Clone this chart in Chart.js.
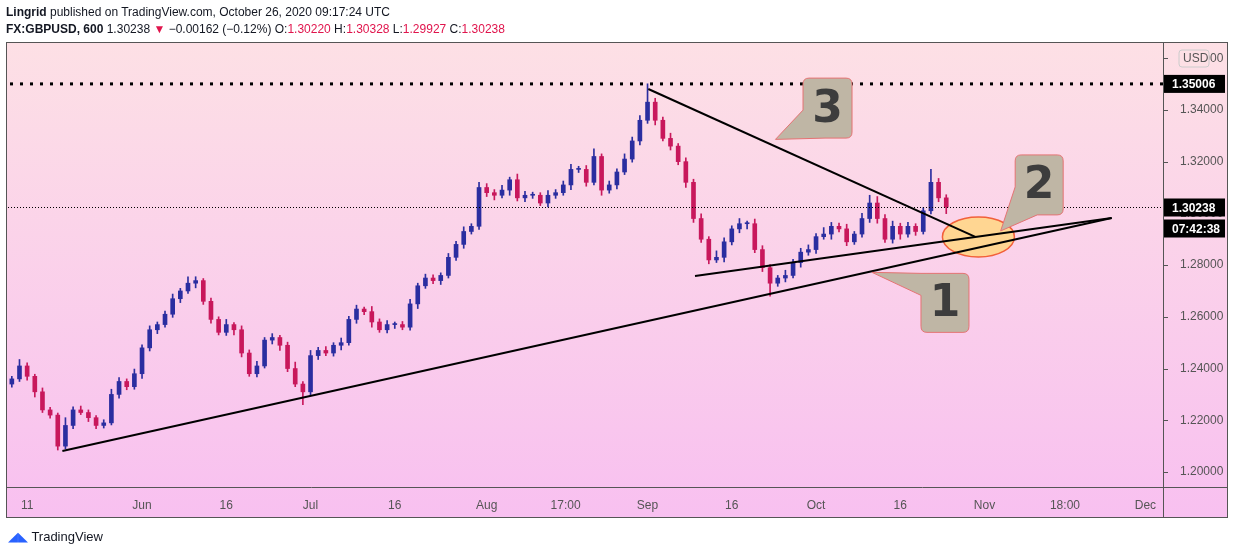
<!DOCTYPE html>
<html>
<head>
<meta charset="utf-8">
<script src="https://cdn.jsdelivr.net/npm/chart.js@4.4.0/dist/chart.umd.min.js"></script>
<style>
  body { margin:0; background:#fff; font-family:"Liberation Sans", "DejaVu Sans", sans-serif; }
  #wrap { position:relative; width:1234px; height:555px; overflow:hidden; }
  #c { position:absolute; left:0; top:0; }
  .hdr { position:absolute; left:6px; font-size:12px; color:#131722; white-space:nowrap; }
  .red { color:#e0144c; }
  #logo { position:absolute; left:8px; top:529px; font-size:13px; color:#131722; }
</style>
</head>
<body>
<div id="wrap">
  <canvas id="c" width="1234" height="555"></canvas>
  <div class="hdr" style="top:5px"><b>Lingrid</b> published on TradingView.com, October 26, 2020 09:17:24 UTC</div>
  <div class="hdr" style="top:22px"><b>FX:GBPUSD, 600</b> 1.30238 <span class="red">▼</span> −0.00162 (−0.12%) O:<span class="red">1.30220</span> H:<span class="red">1.30328</span> L:<span class="red">1.29927</span> C:<span class="red">1.30238</span></div>
  <div id="logo"><span style="color:#2962ff;font-weight:bold">◢◣</span> TradingView</div>
</div>
<script>
// trading-day index, 0 = May 11 2020
const firstDay = -2;
const firstOpen = 1.234;
const closes = [1.236,1.241,1.237,1.231,1.224,1.222,1.210,1.218,1.224,1.223,1.221,1.218,1.219,1.230,1.235,1.233,1.238,1.248,1.255,1.257,
  1.261,1.267,1.270,1.273,1.274,1.266,1.259,1.254,1.257,1.255,1.246,1.238,1.241,1.251,1.252,1.249,1.240,1.234,1.231,1.245,
  1.247,1.246,1.249,1.250,1.259,1.263,1.262,1.258,1.255,1.257,1.257,1.256,1.265,1.272,1.275,1.274,1.276,1.283,1.288,1.293,
  1.295,1.310,1.308,1.307,1.309,1.313,1.306,1.307,1.307,1.304,1.307,1.308,1.311,1.317,1.317,1.312,1.322,1.309,1.311,1.316,
  1.321,1.328,1.336,1.343,1.336,1.329,1.326,1.320,1.312,1.298,1.290,1.282,1.283,1.289,1.294,1.296,1.296,1.286,1.279,1.273,
  1.275,1.276,1.281,1.285,1.286,1.291,1.292,1.295,1.294,1.289,1.292,1.298,1.304,1.298,1.290,1.295,1.292,1.295,1.293,1.301,
  1.312,1.306,1.3024];
// wick lengths in pips above/below the body
const hiPips = [10,25,12,8,15,10,8,30,12,15, 10,8,12,20,15,10,18,12,15,10, 12,18,10,25,15,8,12,10,20,8, 15,12,18,10,15,8,12,25,10,20,
  12,15,10,18,12,15,8,20,12,15, 10,12,18,10,15,12,10,15,12,18, 10,20,15,12,18,10,22,15,12,10, 18,12,15,20,12,15,30,10,15,12,
  20,15,18,71,15,12,20,10,15,12, 18,10,25,15,12,20,10,18,15,12, 10,20,12,15,18,12,25,15,12,18, 10,20,30,25,15,20,12,15,10,12, 50,15,12];
const loPips = [12,10,15,20,10,12,15,10,12,8, 15,12,10,8,15,12,10,18,12,15, 10,12,15,10,18,12,15,10,12,20, 15,10,12,8,15,20,12,10,50,12,
  15,10,12,18,10,15,12,20,10,12, 15,10,12,18,10,12,15,10,12,15, 10,12,15,18,10,20,12,15,12,10, 15,12,10,18,12,15,10,20,12,15,
  10,12,15,12,18,10,15,12,20,15, 12,15,10,18,12,15,20,12,15,50, 12,15,10,18,12,15,10,20,12,15, 10,12,15,18,12,15,20,12,15,10, 12,15,25];
const xTickDays = [0, 15, 26, 37, 48, 60, 70.3, 81, 92, 103, 114, 125, 135.5, 146];
const xTickLabels = ['11','Jun','16','Jul','16','Aug','17:00','Sep','16','Oct','16','Nov','18:00','Dec'];
const yTicks = [1.20,1.22,1.24,1.26,1.28,1.30,1.32,1.34,1.36];
// trend lines [day, price]
const supportLine = [[4.6,1.2081],[141.6,1.2982]];
const triangleLow = [[87.2,1.2758],[141.6,1.2982]];
const resistLine = [[81.1,1.3481],[123.8,1.2909]];
const highLevel = 1.35006, lastPrice = 1.30238;

const UP = '#2b2ea0', DOWN = '#c8185c';
const bodies = [], wicks = [], cols = [];
closes.forEach((c, i) => {
  const o = i ? closes[i-1] : firstOpen;
  const d = firstDay + i;
  bodies.push({x:d, y:[o, c]});
  wicks.push({x:d, y:[Math.min(o,c) - loPips[i]/10000, Math.max(o,c) + hiPips[i]/10000]});
  cols.push(c >= o ? UP : DOWN);
});

function callout(ctx, x, y, w, h, tx, ty, label, side) {
  ctx.save();
  ctx.fillStyle = '#bfb6a5'; ctx.strokeStyle = '#e57373'; ctx.lineWidth = 1;
  ctx.beginPath();
  const r = 6;
  ctx.moveTo(x+r, y); ctx.lineTo(x+w-r, y); ctx.quadraticCurveTo(x+w, y, x+w, y+r);
  ctx.lineTo(x+w, y+h-r); ctx.quadraticCurveTo(x+w, y+h, x+w-r, y+h);
  if (side === 'bl') { ctx.lineTo(x+22, y+h); ctx.lineTo(tx, ty); ctx.lineTo(x, y+h-28); }
  else { ctx.lineTo(x+r, y+h); ctx.quadraticCurveTo(x, y+h, x, y+h-r); }
  if (side === 'tl') { ctx.lineTo(x, y+22); ctx.lineTo(tx, ty); ctx.lineTo(x, y); ctx.lineTo(x+r, y); }
  else { ctx.lineTo(x, y+r); ctx.quadraticCurveTo(x, y, x+r, y); }
  ctx.closePath(); ctx.fill(); ctx.stroke();
  ctx.fillStyle = '#3d3d3d'; ctx.font = 'bold 44px "DejaVu Sans", sans-serif';
  ctx.textAlign = 'center'; ctx.textBaseline = 'middle';
  ctx.fillText(label, x + w/2, y + h/2 + 2);
  ctx.restore();
}

const tvPlugin = {
  id: 'tv',
  beforeDraw(chart) {
    const {ctx} = chart;
    const g = ctx.createLinearGradient(0, 42, 0, 518);
    g.addColorStop(0, '#fde0e5'); g.addColorStop(1, '#f8c0f0');
    ctx.fillStyle = g; ctx.fillRect(6, 42, 1222, 476);
  },
  afterDatasetsDraw(chart) {
    const {ctx, chartArea: a, scales: {x, y}} = chart;
    ctx.save();
    ctx.beginPath(); ctx.rect(a.left, a.top, a.right - a.left, a.bottom - a.top); ctx.clip();
    ctx.fillStyle = '#000';
    const yh = y.getPixelForValue(highLevel);
    for (let px = a.left + 2; px < a.right; px += 10) ctx.fillRect(px, yh - 1.5, 3, 3);
    const yl = Math.round(y.getPixelForValue(lastPrice)) + 0.5;
    ctx.strokeStyle = '#000'; ctx.lineWidth = 1; ctx.setLineDash([1, 2]);
    ctx.beginPath(); ctx.moveTo(a.left, yl); ctx.lineTo(a.right, yl); ctx.stroke();
    ctx.setLineDash([]);
    const ex = x.getPixelForValue(124.2), ey = y.getPixelForValue(1.2909);
    ctx.fillStyle = 'rgba(255,214,130,0.85)'; ctx.strokeStyle = '#f2603a'; ctx.lineWidth = 1.5;
    ctx.beginPath(); ctx.ellipse(ex, ey, 36, 20, 0, 0, Math.PI*2); ctx.fill(); ctx.stroke();
    ctx.strokeStyle = '#000'; ctx.lineWidth = 2;
    [supportLine, triangleLow, resistLine].forEach(l => {
      ctx.beginPath();
      ctx.moveTo(x.getPixelForValue(l[0][0]), y.getPixelForValue(l[0][1]));
      ctx.lineTo(x.getPixelForValue(l[1][0]), y.getPixelForValue(l[1][1]));
      ctx.stroke();
    });
    const P = (d, p) => [x.getPixelForValue(d), y.getPixelForValue(p)];
    let [bx, by] = P(101.3, 1.3523), [tx, ty] = P(97.7, 1.3286);
    callout(ctx, bx, by, 49, 60, tx, ty, '3', 'bl');
    [bx, by] = P(129, 1.3226); [tx, ty] = P(127.1, 1.2932);
    callout(ctx, bx, by, 48, 60, tx, ty, '2', 'bl');
    [bx, by] = P(116.7, 1.2768); [tx, ty] = P(110.3, 1.2772);
    callout(ctx, bx, by, 48, 59, tx, ty, '1', 'tl');
    ctx.restore();

    ctx.save();
    ctx.strokeStyle = '#555'; ctx.lineWidth = 1;
    ctx.strokeRect(6.5, 42.5, 1221, 475);
    ctx.beginPath(); ctx.moveTo(a.right + 0.5, 42); ctx.lineTo(a.right + 0.5, 518);
    ctx.moveTo(6, a.bottom + 0.5); ctx.lineTo(1228, a.bottom + 0.5);
    yTicks.forEach(v => { const py = Math.round(y.getPixelForValue(v)) + 0.5; ctx.moveTo(a.right, py); ctx.lineTo(a.right + 5, py); });
    ctx.stroke();
    ctx.font = 'bold 12px "Liberation Sans", sans-serif'; ctx.textBaseline = 'middle';
    const tag = (yy, t) => {
      ctx.fillStyle = '#000'; ctx.fillRect(a.right + 1, yy - 9, 61, 18);
      ctx.fillStyle = '#fff'; ctx.fillText(t, a.right + 9, yy + 1);
    };
    tag(yh, '1.35006'); tag(yl, '1.30238'); tag(yl + 21, '07:42:38');
    ctx.fillStyle = '#fde0e5'; ctx.strokeStyle = '#ccc';
    ctx.beginPath(); ctx.roundRect(a.right + 16, 50, 30, 17, 3); ctx.fill(); ctx.stroke();
    ctx.fillStyle = '#555'; ctx.font = '12px "Liberation Sans", sans-serif'; ctx.fillText('USD', a.right + 20, 59);
    ctx.restore();
  }
};

new Chart(document.getElementById('c').getContext('2d'), {
  type: 'bar',
  data: {
    datasets: [
      {data: wicks, backgroundColor: cols, barThickness: 1, grouped: false},
      {data: bodies, backgroundColor: cols, barThickness: 4, grouped: false, minBarLength: 1}
    ]
  },
  options: {
    responsive: false, animation: false,
    layout: { padding: {left: 8, top: 45, right: 6, bottom: 38} },
    plugins: { legend: {display: false}, tooltip: {enabled: false} },
    scales: {
      x: {
        type: 'linear', min: -2.5, max: 148.3, offset: false,
        grid: {display: false}, border: {display: false},
        afterFit(s) { s.height = 30; },
        afterBuildTicks(s) { s.ticks = xTickDays.map(v => ({value: v})); },
        ticks: { autoSkip: false, maxRotation: 0, color: '#555', font: {size: 12, family: 'Liberation Sans'},
          callback: (v, i) => xTickLabels[i] }
      },
      y: {
        position: 'right', min: 1.1942, max: 1.3651,
        grid: {display: false}, border: {display: false},
        afterFit(s) { s.width = 65; },
        afterBuildTicks(s) { s.ticks = yTicks.map(v => ({value: v})); },
        ticks: { color: '#555', padding: 9, font: {size: 12, family: 'Liberation Sans'},
          callback: v => v.toFixed(5) }
      }
    }
  },
  plugins: [tvPlugin]
});
</script>
</body>
</html>
